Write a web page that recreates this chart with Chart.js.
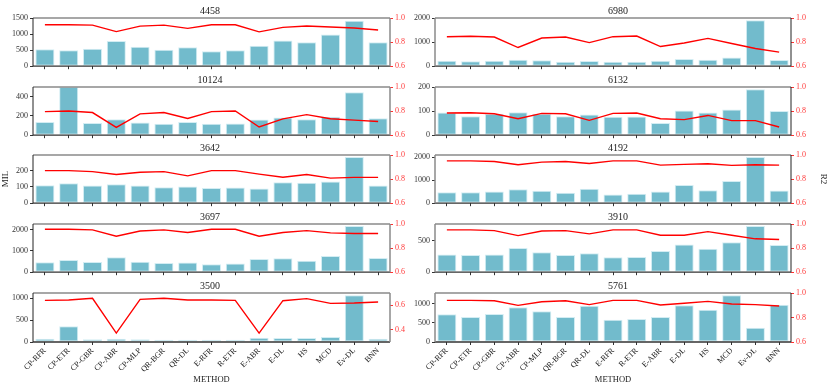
<!DOCTYPE html>
<html><head><meta charset="utf-8">
<script src="https://cdn.jsdelivr.net/npm/chart.js@4/dist/chart.umd.min.js"></script>
<style>
html,body{margin:0;padding:0;background:#fff;}
#wrap{position:relative;width:831px;height:385px;overflow:hidden;}
.cell{position:absolute;}
</style></head>
<body><div id="wrap"></div>
<script>
const methods = ['CP-RFR','CP-ETR','CP-GBR','CP-ABR','CP-MLP','QR-BGR','QR-DL','E-RFR','R-ETR','E-ABR','E-DL','HS','MCD','Ev-DL','BNN'];
const titles = ['4458','6980','10124','6132','3642','4192','3697','3910','3500','5761'];

const mil4458  = [525,495,545,788,606,515,586,465,495,636,798,747,990,1414,747];
const mil6980  = [231,204,231,272,245,190,218,190,190,231,299,272,367,1918,258];
const mil10124 = [136,500,125,166,132,119,136,119,122,163,183,166,190,444,176];
const mil6132  = [95,79,89,96,89,79,86,77,78,51,103,95,107,192,101];
const mil3642  = [110,122,108,116,108,98,102,94,96,90,128,126,134,284,108];
const mil4192  = [482,482,511,610,539,454,624,383,411,511,794,567,965,2014,553];
const mil3697  = [465,574,481,698,496,434,450,372,403,620,651,543,760,2171,667];
const mil3910  = [284,274,284,384,316,274,300,237,242,337,442,374,479,737,432];
const mil3500  = [76,356,61,76,61,53,53,53,53,98,91,91,114,1061,76];
const mil5761  = [728,658,737,912,807,658,956,588,605,658,965,851,1228,377,982];

const r2_4458  = [0.944,0.944,0.941,0.887,0.933,0.941,0.914,0.944,0.944,0.885,0.922,0.933,0.925,0.917,0.901];
const r2_6980  = [0.845,0.848,0.842,0.755,0.834,0.842,0.796,0.845,0.850,0.763,0.793,0.831,0.788,0.747,0.717];
const r2_10124 = [0.796,0.801,0.788,0.665,0.777,0.788,0.739,0.796,0.801,0.668,0.736,0.771,0.736,0.725,0.714];
const r2_6132  = [0.784,0.786,0.778,0.737,0.781,0.778,0.723,0.781,0.784,0.737,0.729,0.764,0.721,0.721,0.668];
const r2_3642  = [0.870,0.870,0.862,0.838,0.857,0.862,0.827,0.870,0.870,0.841,0.816,0.838,0.808,0.814,0.814];
const r2_4192  = [0.951,0.951,0.946,0.919,0.941,0.946,0.930,0.951,0.951,0.916,0.922,0.927,0.914,0.919,0.916];
const r2_3697  = [0.956,0.956,0.951,0.899,0.942,0.951,0.929,0.956,0.956,0.899,0.929,0.945,0.926,0.921,0.921];
const r2_3910  = [0.951,0.951,0.945,0.904,0.942,0.945,0.918,0.951,0.951,0.907,0.907,0.937,0.907,0.877,0.871];
const r2_3500  = [0.641,0.644,0.658,0.373,0.649,0.658,0.644,0.644,0.641,0.373,0.638,0.655,0.616,0.619,0.627];
const r2_5761  = [0.940,0.940,0.937,0.899,0.929,0.937,0.905,0.940,0.940,0.902,0.916,0.932,0.910,0.905,0.894];

const milSeries = [mil4458,mil6980,mil10124,mil6132,mil3642,mil4192,mil3697,mil3910,mil3500,mil5761];
const r2Series  = [r2_4458,r2_6980,r2_10124,r2_6132,r2_3642,r2_4192,r2_3697,r2_3910,r2_3500,r2_5761];
const milMax    = [1500,2010,498,201,296,2099,2264,768,1114,1289];
const milStep   = [500,1000,200,100,100,1000,1000,500,500,500];
const r2Min     = [0.6,0.6,0.6,0.6,0.6,0.6,0.6,0.6,0.3,0.6];
const r2Max     = [1.0,1.0,1.0,1.0,1.0,1.0,1.0,1.0,0.701,1.0];
const r2Ticks   = [0.4,0.6,0.8,1.0];

const FONT = 'Liberation Serif';
const rowTops = [18,87,155,224,293];
const plotH = 49, titleH = 16;
const cols = [{left:0, lw:33, pw:357, rw:30},{left:405, lw:30, pw:356, rw:40}];

const framePlugin = {
  id:'frame',
  afterDraw(chart, args, opts){
    const a = chart.chartArea, c = chart.ctx;
    c.save();
    const seg = (x1,y1,x2,y2,col,w)=>{c.strokeStyle=col;c.lineWidth=w;c.beginPath();c.moveTo(x1,y1);c.lineTo(x2,y2);c.stroke();};
    seg(a.left,a.top,a.right,a.top,'#8a8a8a',1.5);
    seg(a.left,a.bottom,a.right,a.bottom,'#333',1.3);
    if(opts.col===0){
      seg(a.right,a.top,a.right,a.bottom,'#8a8a8a',1.5);
      seg(a.left,a.top,a.left,a.bottom,'#222',1);
    } else {
      seg(a.left,a.top,a.left,a.bottom,'#8a8a8a',1.5);
      seg(a.right,a.top,a.right,a.bottom,'#222',1);
    }
    c.restore();
  }
};

const wrap = document.getElementById('wrap');
for(let i=0;i<10;i++){
  const row = Math.floor(i/2), col = i%2;
  const C = cols[col];
  const bottomH = row===4 ? (385 - (rowTops[4]+plotH)) : 6;
  const div = document.createElement('div');
  div.className='cell';
  const W = C.lw + C.pw + C.rw, H = titleH + plotH + bottomH;
  div.style.left = C.left+'px';
  div.style.top = (rowTops[row]-titleH)+'px';
  div.style.width = W+'px'; div.style.height = H+'px';
  const cv = document.createElement('canvas');
  cv.width = W; cv.height = H;
  cv.style.width = W+'px'; cv.style.height = H+'px';
  div.appendChild(cv); wrap.appendChild(div);
  const isBottom = row===4;
  const step = milStep[i];
  const yMax = milMax[i];
  const lo = r2Min[i], hi = r2Max[i];
  new Chart(cv, {
    type:'bar',
    data:{
      labels: methods,
      datasets:[
        {type:'line', data:r2Series[i], yAxisID:'y1', borderColor:'#ff0000', borderWidth:1.4, pointRadius:0, tension:0, order:0},
        {type:'bar', data:milSeries[i], yAxisID:'y', backgroundColor:'#72bbcc', borderColor:'#d3edf3', borderWidth:1, borderSkipped:false, barPercentage:0.8, categoryPercentage:1, order:1}
      ]
    },
    options:{
      responsive:false, maintainAspectRatio:false, animation:false,
      layout:{padding:0},
      plugins:{
        legend:{display:false}, tooltip:{enabled:false},
        title:{display:true, text:titles[i], color:'#222', font:{family:FONT, size:10, weight:'normal', lineHeight:1.2}, padding:{top:3,bottom:1}},
        frame:{col:col}
      },
      scales:{
        x:{
          grid:{offset:false, drawOnChartArea:false, drawTicks:true, tickLength:3, color:'#333'},
          border:{display:false},
          ticks:{autoSkip:false, minRotation:isBottom?45:0, maxRotation:isBottom?45:0, color:'#222', padding:1,
                 font:{family:FONT, size:8}, callback:function(v){return isBottom ? this.getLabelForValue(v) : '';}},
          title:{display:isBottom, text:'METHOD', color:'#222', font:{family:FONT, size:8.5}, padding:{top:0,bottom:0}},
          afterFit:(s)=>{s.height = bottomH;}
        },
        y:{
          position:'left', min:0, max:yMax,
          grid:{drawOnChartArea:false, drawTicks:true, tickLength:3, color:'#333'},
          border:{display:false},
          ticks:{autoSkip:false, color:'#333', padding:2, font:{family:FONT, size:8}, callback:(v)=>String(v)},
          title:{display:i===4, text:'MIL', color:'#222', font:{family:FONT, size:9}, padding:{top:0,bottom:2}},
          afterBuildTicks:(s)=>{const t=[]; for(let v=0; v<=yMax+1e-9; v+=step) t.push({value:v}); s.ticks=t;},
          afterFit:(s)=>{s.width = C.lw;}
        },
        y1:{
          position:'right', min:lo, max:hi,
          grid:{drawOnChartArea:false, drawTicks:true, tickLength:3, color:'#ff3030'},
          border:{display:false},
          ticks:{autoSkip:false, color:'#ff3b3b', padding:2, font:{family:FONT, size:8}, callback:(v)=>Number(v).toFixed(1)},
          title:{display:i===5, text:'R2', color:'#222', font:{family:FONT, size:9}, padding:{top:2,bottom:0}},
          afterBuildTicks:(s)=>{s.ticks = r2Ticks.filter(v=>v>=lo-1e-9 && v<=hi+1e-9).map(v=>({value:v}));},
          afterFit:(s)=>{s.width = C.rw;}
        }
      }
    },
    plugins:[framePlugin]
  });
}
</script>
</body></html>
